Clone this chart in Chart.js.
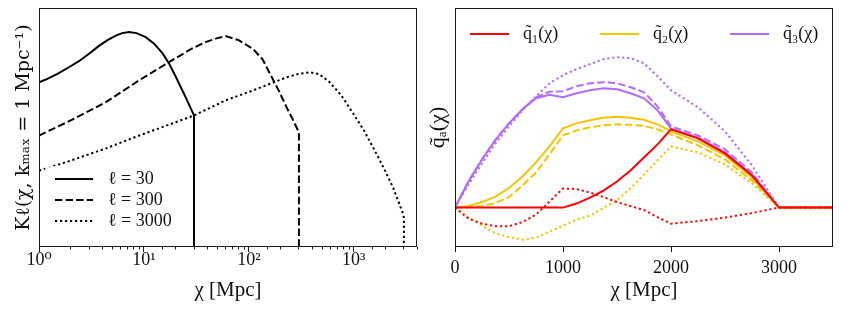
<!DOCTYPE html>
<html>
<head>
<meta charset="utf-8">
<script src="https://cdn.jsdelivr.net/npm/chart.js@4.4.0/dist/chart.umd.min.js"></script>
<style>
  body { margin: 0; background: #fff; }
  #wrap { position: relative; width: 843px; height: 314px; }
  canvas { position: absolute; top: 0; }
  #left { left: 0; }
  #right { left: 420px; }
</style>
</head>
<body>
<div id="wrap">
  <canvas id="left" width="420" height="314"></canvas>
  <canvas id="right" width="423" height="314"></canvas>
</div>
<script>
// ---- left panel: K_l(chi) for three multipoles (arbitrary units) ----
const chi30 = [1, 1.2, 1.5, 2, 2.4, 3, 3.7, 4.5, 5.4, 6.2, 7.2, 8.5, 10.4, 12.5, 15, 17.5, 20, 25, 30, 30];
const K30 = [164, 167.5, 172.5, 180, 185, 192.5, 200, 206, 210.5, 213, 214, 213, 209, 202.5, 193, 182, 170, 149, 131, 0];
const chi300 = [1, 2, 4.3, 9, 18.6, 28, 38.6, 50, 60, 80, 110, 135, 158, 190, 229, 265, 300, 300];
const K300 = [111, 126, 144, 166, 186, 197, 204, 208, 210, 206, 197, 187, 173, 157, 139, 126, 114, 0];
const chi3000 = [1, 2, 4.3, 9, 18.6, 30, 60, 110, 229, 300, 381, 470, 590, 760, 986, 1250, 1528, 1900, 2371, 2950, 3000, 3000];
const K3000 = [76, 86, 98, 111, 123, 131, 146, 156, 169, 172.5, 174, 172, 164, 151, 133, 116, 99, 80, 59, 33, 29, 0];
const ellLabels = ['ℓ = 30', 'ℓ = 300', 'ℓ = 3000'];
const logTickLabels = ['10⁰', '10¹', '10²', '10³'];

// ---- right panel: q_a(chi) weights, solid / dashed / dotted variants ----
const chiQ = [0, 125, 250, 375, 500, 625, 750, 875, 1000, 1125, 1250, 1375, 1500, 1625, 1750, 1875, 2000, 2250, 2500, 2750, 3000, 3500];
const q1Solid  = [0, 0, 0, 0, 0, 0, 0, 0, 0, 4, 10, 17, 26, 37, 50, 63, 78, 69, 54, 32, 0, 0];
const q1Dotted = [0, -11, -16, -18.5, -18.5, -14.5, -7, 6, 19, 18.5, 15, 10.5, 5.5, 1.5, -2.5, -9.5, -16, -13.5, -10, -5.5, 0, 0];
const q2Solid  = [0, 1.5, 5.5, 11, 19.5, 31, 45, 61, 79, 84, 87, 89.5, 90.5, 89.5, 87.5, 83, 76, 66, 52, 30, 0, 0];
const q2Dashed = [0, 0.5, 1.5, 4.5, 10.5, 22, 35, 53, 72, 77, 80, 82, 83, 82.5, 81.5, 78, 73, 62, 48, 27, 0, 0];
const q2Dotted = [0, -10, -18, -25.5, -29.5, -32, -30, -24, -18, -12, -8, -0.5, 7.5, 19, 33, 47, 61, 55, 43, 24, 0, 0];
const q3Solid  = [0, 26, 48, 67.5, 84, 98, 109, 112.5, 110, 114, 117, 119, 118, 114, 109, 97, 79, 70, 55, 33, 0, 0];
const q3Dashed = [0, 26, 48, 67.5, 84, 98, 110, 115.5, 116, 121, 124, 125, 124, 120, 115, 101, 81, 72, 58, 35, 0, 0];
const q3Dotted = [0, 23, 44, 64, 81, 97, 111, 124, 132, 138, 143, 148, 150, 149, 144, 131, 117, 100, 76, 42, 0, 0];
const qLabels = ['q̃₁(χ)', 'q̃₂(χ)', 'q̃₃(χ)'];
const qTicks = [0, 1000, 2000, 3000];

const RED = '#ff0000', GOLD = '#f5c400', PURPLE = '#b26bff';
const SERIF = "'Liberation Serif', 'DejaVu Serif', serif";
const DASH = [7.4, 3.2], DOT = [2.2, 2.8];

function pts(xs, ys) { return xs.map((x, i) => ({ x: x, y: ys[i] })); }

function line(label, xs, ys, color, dash) {
  return {
    label: label, data: pts(xs, ys), borderColor: color, backgroundColor: color,
    borderWidth: 2, borderDash: dash, pointRadius: 0, tension: 0, fill: false
  };
}

// frame around the plot area
const boxPlugin = {
  id: 'box',
  afterDraw(chart) {
    const a = chart.chartArea, ctx = chart.ctx;
    ctx.save();
    ctx.strokeStyle = '#1a1a1a';
    ctx.lineWidth = 1;
    ctx.strokeRect(Math.round(a.left) + 0.5, Math.round(a.top) + 0.5,
      Math.round(a.right - a.left) - 1, Math.round(a.bottom - a.top) - 1);
    ctx.restore();
  }
};

// legend drawn inside the axes, like matplotlib
const inLegend = {
  id: 'inLegend',
  afterDatasetsDraw(chart, args, o) {
    const ctx = chart.ctx;
    ctx.save();
    if (o.frame) {
      const f = o.frame;
      ctx.fillStyle = 'rgba(255,255,255,0.8)';
      ctx.beginPath();
      ctx.roundRect(f.x, f.y, f.w, f.h, 3);
      ctx.fill();
    }
    const items = chart.data.datasets.filter(d => d.label);
    items.forEach((d, i) => {
      const x = o.x + i * o.dx, y = o.y + i * o.dy;
      ctx.strokeStyle = d.borderColor;
      ctx.lineWidth = d.borderWidth;
      ctx.setLineDash(d.borderDash || []);
      ctx.beginPath();
      ctx.moveTo(x, y);
      ctx.lineTo(x + o.len, y);
      ctx.stroke();
      ctx.setLineDash([]);
      ctx.fillStyle = '#111';
      ctx.font = o.font;
      ctx.textBaseline = 'middle';
      ctx.fillText(d.label, x + o.len + o.gap, y);
    });
    ctx.restore();
  }
};

const isDecade = v => Math.abs(Math.log10(v) - Math.round(Math.log10(v))) < 1e-9;

new Chart(document.getElementById('left'), {
  type: 'line',
  data: {
    datasets: [
      line(ellLabels[0], chi30, K30, '#000', []),
      line(ellLabels[1], chi300, K300, '#000', DASH),
      line(ellLabels[2], chi3000, K3000, '#000', DOT)
    ]
  },
  options: {
    responsive: false,
    animation: false,
    devicePixelRatio: 1,
    layout: { padding: { top: 8, right: 3, left: 0, bottom: 0 } },
    plugins: {
      legend: { display: false },
      tooltip: { enabled: false },
      inLegend: { x: 55, y: 179, dx: 0, dy: 21, len: 38, gap: 15,
        font: "18px " + SERIF, frame: { x: 45, y: 166, w: 138, h: 68 } }
    },
    scales: {
      x: {
        type: 'logarithmic', min: 1, max: 4000,
        border: { display: false },
        grid: {
          drawOnChartArea: false, tickLength: 5, color: '#1a1a1a', tickColor: '#1a1a1a',
          tickBorderDash: ctx => (ctx.tick && !isDecade(ctx.tick.value) ? [2.5, 40] : [])
        },
        ticks: {
          autoSkip: false, maxRotation: 0, padding: -3, color: '#111',
          font: { family: SERIF, size: 18 },
          callback: v => (isDecade(v) ? logTickLabels[Math.round(Math.log10(v))] || '' : '')
        },
        title: { display: true, text: 'χ [Mpc]', color: '#111',
          font: { family: SERIF, size: 21 }, padding: { top: 0, bottom: 11 } },
        afterFit: s => { s.height = 314 - 247; }
      },
      y: {
        min: 0, max: 238,
        border: { display: false },
        grid: { display: false },
        ticks: { display: false },
        title: { display: true, text: 'Kℓ(χ, kₘₐₓ = 1 Mpc⁻¹)', color: '#111',
          font: { family: "'DejaVu Serif', serif", size: 19 }, padding: { top: 13, bottom: 0 } },
        afterFit: s => { s.width = 39; }
      }
    }
  },
  plugins: [boxPlugin, inLegend]
});

new Chart(document.getElementById('right'), {
  type: 'line',
  data: {
    datasets: [
      line(qLabels[0], chiQ, q1Solid, RED, []),
      line('', chiQ, q1Dotted, RED, DOT),
      line(qLabels[1], chiQ, q2Solid, GOLD, []),
      line('', chiQ, q2Dashed, GOLD, DASH),
      line('', chiQ, q2Dotted, GOLD, DOT),
      line(qLabels[2], chiQ, q3Solid, PURPLE, []),
      line('', chiQ, q3Dashed, PURPLE, DASH),
      line('', chiQ, q3Dotted, PURPLE, DOT)
    ]
  },
  options: {
    responsive: false,
    animation: false,
    devicePixelRatio: 1,
    layout: { padding: { top: 8, right: 10, left: 0, bottom: 0 } },
    plugins: {
      legend: { display: false },
      tooltip: { enabled: false },
      inLegend: { x: 50, y: 34, dx: 130, dy: 0, len: 39, gap: 14,
        font: "18px " + SERIF }
    },
    scales: {
      x: {
        type: 'linear', min: 0, max: 3500,
        border: { display: false },
        afterBuildTicks: s => { s.ticks = qTicks.map(v => ({ value: v })); },
        grid: { drawOnChartArea: false, tickLength: 5, tickColor: '#1a1a1a' },
        ticks: {
          autoSkip: false, maxRotation: 0, padding: 5, color: '#111',
          font: { family: SERIF, size: 18 },
          callback: v => String(v)
        },
        title: { display: true, text: 'χ [Mpc]', color: '#111',
          font: { family: SERIF, size: 21 }, padding: { top: 0, bottom: 11 } },
        afterFit: s => { s.height = 314 - 247; }
      },
      y: {
        min: -39.3, max: 199,
        border: { display: false },
        grid: { display: false },
        ticks: { display: false },
        title: { display: true, text: 'q̃ₐ(χ)', color: '#111',
          font: { family: SERIF, size: 22 }, padding: { top: 5, bottom: 0 } },
        afterFit: s => { s.width = 35; }
      }
    }
  },
  plugins: [boxPlugin, inLegend]
});
</script>
</body>
</html>
